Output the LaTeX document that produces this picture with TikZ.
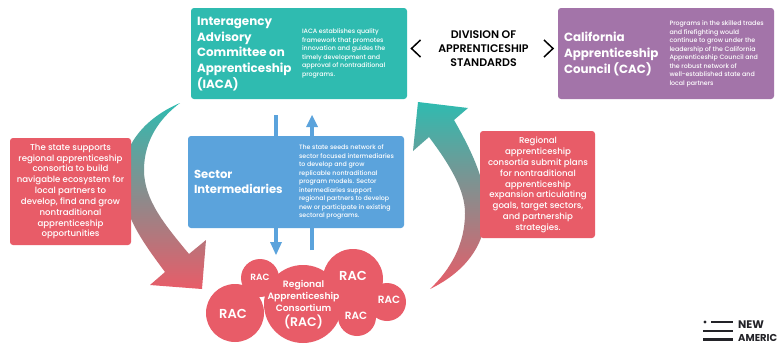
\documentclass[tikz,border=0pt]{standalone}
\usepackage{fontspec}
\setmainfont{Poppins}
\newfontfamily\medf{Poppins Medium}
\newfontfamily\semif{Poppins SemiBold}
\definecolor{tealc}{RGB}{47,187,176}
\definecolor{redc}{RGB}{232,92,104}
\definecolor{bluec}{RGB}{91,163,220}
\definecolor{purplec}{RGB}{163,116,169}
\definecolor{darkc}{RGB}{35,35,40}
\newcommand{\fs}[2]{\fontsize{#1}{#2}\selectfont}
\tikzset{
  card/.style={rounded corners=3pt,inner sep=0pt,draw=none},
  lab/.style={inner sep=0pt,outer sep=0pt,text=white},
  title/.style={lab,anchor=west,align=left,font=\bfseries\fs{11.9}{15.6}},
  desc/.style={lab,anchor=west,align=left,font=\medf\fs{6.3}{8.5}},
  redtext/.style={lab,align=center,font=\medf\fs{8.6}{10.85}},
  flow/.style={draw=bluec,line width=3.6pt},
  tip/.style={fill=bluec,draw=none},
  blob/.style={circle,fill=redc,inner sep=0pt,draw=none},
  chev/.style={draw=black,line width=1.5pt,line join=miter},
  bar/.style={draw=darkc,line width=2.8pt},
}
\begin{document}
\begin{tikzpicture}[x=1pt,y=-1pt]
\path[fill=white,use as bounding box] (0,0) rectangle (778,343);
\clip (0,0) rectangle (778,343);
% curved arrows
\shade[top color=tealc,bottom color=redc]
  (180,103) .. controls (145,118) and (122,145) .. (122,180)
  .. controls (122,215) and (145,245) .. (165,272)
  -- (150,285) -- (202,289) -- (206,240) -- (189,254)
  .. controls (165,225) and (144,200) .. (144,170)
  .. controls (144,140) and (160,118) .. (180,103) -- cycle;
\shade[top color=tealc,bottom color=redc]
  (430,289) .. controls (465,272) and (486,245) .. (486,210)
  .. controls (486,180) and (470,148) .. (454,120)
  -- (468,108) -- (418,102) -- (413,151) -- (429,137)
  .. controls (450,165) and (465,190) .. (465,213)
  .. controls (465,245) and (450,270) .. (430,289) -- cycle;
% vertical arrows behind the sector card
\coordinate (la) at (276,115);
\coordinate (lb) at (276,243);
\coordinate (ra) at (312,250);
\coordinate (rb) at (312,126);
\draw[flow] (la) -- (lb);
\draw[flow] (ra) -- (rb);
\fill[tip] (270,242) -- (282,242) -- (276,255) -- cycle;
\fill[tip] (306,127) -- (318,127) -- (312,115) -- cycle;
% cards
\node[card,fill=tealc,minimum width=216pt,minimum height=91pt] (iaca) at (299,53.5) {};
\node[card,fill=purplec,minimum width=216pt,minimum height=91pt] (cac) at (666,53.5) {};
\node[card,fill=bluec,minimum width=216pt,minimum height=92pt] (sector) at (296,182) {};
\node[card,fill=redc,minimum width=121pt,minimum height=107pt] (leftred) at (70.5,191.5) {};
\node[card,fill=redc,minimum width=115pt,minimum height=107pt] (rightred) at (537.5,184.5) {};
% card texts
\node[title] (iacat) at (197,54) {Interagency\\Advisory\\Committee on\\Apprenticeship\\(IACA)};
\node[desc] (iacad) at (302,53.5) {IACA establishes quality\\framework that promotes\\innovation and guides the\\timely development and\\approval of nontraditional\\programs.};
\node[title] (cact) at (564,54) {California\\Apprenticeship\\Council (CAC)};
\node[desc] (cacd) at (669.5,54) {Programs in the skilled trades\\and firefighting would\\continue to grow under the\\leadership of the California\\Apprenticeship Council and\\the robust network of\\well-established state and\\local partners};
\node[title,font=\bfseries\fs{11.6}{15.6}] (sectort) at (194,182) {Sector\\Intermediaries};
\node[desc] (sectord) at (299,182) {The state seeds network of\\sector focused intermediaries\\to develop and grow\\replicable nontraditional\\program models. Sector\\intermediaries support\\regional partners to develop\\new or participate in existing\\sectoral programs.};
\node[redtext] (leftt) at (70.5,191.5) {The state supports\\regional apprenticeship\\consortia to build\\navigable ecosystem for\\local partners to\\develop, find and grow\\nontraditional\\apprenticeship\\opportunities};
\node[redtext] (rightt) at (538,185) {Regional\\apprenticeship\\consortia submit plans\\for nontraditional\\apprenticeship\\expansion articulating\\goals, target sectors,\\and partnership\\strategies.};
% centre title and chevrons
\node[inner sep=0pt,align=center,text=black,font=\semif\fs{11}{13.7}] (das) at (483.5,48.5) {DIVISION OF\\APPRENTICESHIP\\STANDARDS};
\draw[chev] (420.5,40) -- (411.5,48.5) -- (420.5,57);
\draw[chev] (544,40) -- (553,48.5) -- (544,57);
% cloud
\node[blob,minimum size=58pt] (c1) at (235,313) {};
\node[blob,minimum size=38pt] (c2) at (260,278) {};
\node[blob,minimum size=78pt] (c3) at (303,304) {};
\node[blob,minimum size=60pt] (c4) at (353,279) {};
\node[blob,minimum size=38pt] (c5) at (387,302) {};
\node[blob,minimum size=38pt] (c6) at (357,317) {};
\node[lab,font=\semif\fs{13}{13}] at (233,314) {RAC};
\node[lab,font=\semif\fs{9}{9}] at (260,277) {RAC};
\node[lab,font=\semif\fs{13}{13}] at (353,276) {RAC};
\node[lab,font=\semif\fs{10.5}{10.5}] at (389,300) {RAC};
\node[lab,font=\semif\fs{10.5}{10.5}] at (356,316) {RAC};
\node[lab,align=center,font=\semif\fs{9.2}{12}] (cons) at (303.5,296) {Regional\\Apprenticeship\\Consortium};
\node[lab,font=\semif\fs{12.5}{12.5}] (consb) at (303.5,322) {(RAC)};
% logo
\fill[darkc] (705,322) circle (1.7);
\draw[bar] (711,322) -- (733,322);
\draw[bar] (703,331) -- (733,331);
\draw[bar] (703,339.5) -- (733,339.5);
\node[inner sep=0pt,anchor=base west,text=darkc,font=\bfseries\fs{11}{11}] (na) at (738,328) {NEW};
\node[inner sep=0pt,anchor=base west,text=darkc,font=\bfseries\fs{10}{10}] (nb) at (738,341) {AMERIC};
\end{tikzpicture}
\end{document}
